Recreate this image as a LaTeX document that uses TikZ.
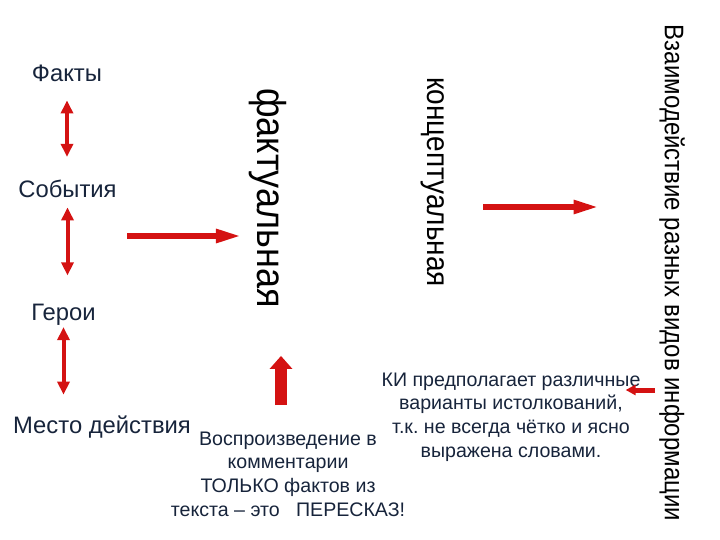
\documentclass[tikz,border=0pt]{standalone}
\usepackage{fontspec}
\setmainfont{Liberation Sans}
\usetikzlibrary{arrows.meta}
\frenchspacing
\definecolor{inkblue}{RGB}{23,36,59}
\definecolor{arrowred}{RGB}{212,18,18}
\tikzstyle{item}=[inner sep=0pt, anchor=base, text=inkblue, font=\fontsize{23.8}{28}\selectfont]
\tikzstyle{vert}=[inner sep=0pt, rotate=-90, yscale=1.12]
\tikzstyle{note}=[inner sep=0pt, align=center, text=inkblue, font=\fontsize{19.6}{23.7}\selectfont]
\tikzstyle{dbl}=[draw=arrowred, line width=4pt, <->, >={Triangle[width=12pt,length=13pt]}]
\tikzstyle{fat}=[draw=arrowred, line width=5.5pt, ->, >={Triangle[width=13pt,length=25pt]}]

\begin{document}
\begin{tikzpicture}[x=1pt, y=-1pt]
\useasboundingbox (0,0) rectangle (720,540);
% left column
\node[item] (facts) at (67,82) {Факты};
\node[item] (events) at (67.5,197) {События};
\node[item] (heroes) at (63.5,320) {Герои};
\node[item] (place) at (102,433) {Место действия};
\draw[dbl, shorten <=18pt, shorten >=22.5pt] (facts.south) -- (facts.south |- events.north);
\draw[dbl, shorten <=10pt, shorten >=28pt] (events.south) -- (events.south |- heroes.north);
\draw[dbl, shorten <=2pt, shorten >=20.5pt] (heroes.south) -- (heroes.south |- place.north);
% vertical words
\node[vert, font=\fontsize{36}{40}\selectfont] (factual) at (268,198) {фактуальная};
\node[vert, font=\fontsize{28}{32}\selectfont] (concept) at (433,182) {концептуальная};
\node[vert, font=\fontsize{24}{28}\selectfont] (interact) at (672,273) {Взаимодействие разных видов информации};
% notes
\node[note] (retell) at (288,474) {Воспроизведение в\\комментарии\\ТОЛЬКО фактов из\\текста – это\ \ \ ПЕРЕСКАЗ!};
\node[note] (ki) at (511,417) {КИ предполагает различные\\варианты истолкований,\\т.к. не всегда чётко и ясно\\выражена словами.};
% arrows
\coordinate (lf) at (127,236);
\draw[fat, shorten >=8pt] (lf) -- (lf -| factual.south);
\coordinate (rt) at (483,207);
\draw[fat, shorten >=60.5pt] (rt) -- (rt -| interact.south);
\coordinate (up) at (281,405);
\draw[draw=arrowred, line width=12pt, ->, >={Triangle[width=22pt,length=13pt]}, shorten >=48pt] (up) -- (up |- factual.east);
\coordinate (kt) at (655,390);
\draw[draw=arrowred, line width=5pt, ->, >={Triangle[width=10pt,length=10pt]}, shorten >=-15pt] (kt) -- (kt -| ki.east);
\end{tikzpicture}
\end{document}
